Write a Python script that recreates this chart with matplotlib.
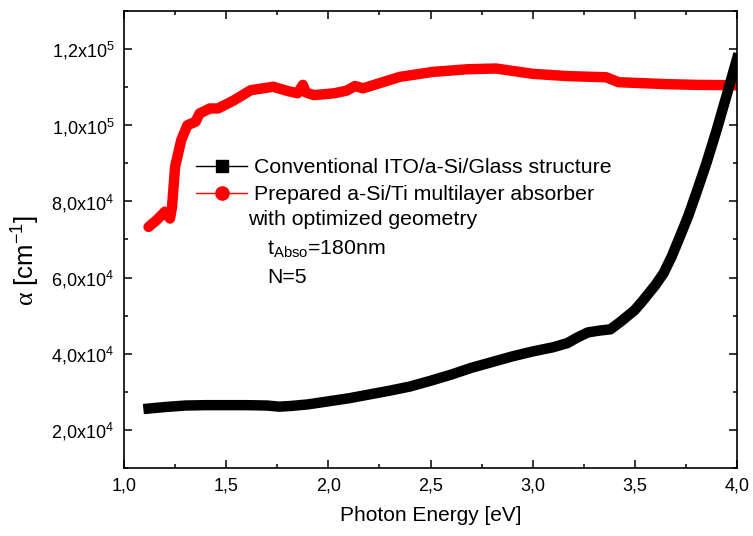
import numpy as np
import matplotlib
matplotlib.use('Agg')
import matplotlib.pyplot as plt
from matplotlib.lines import Line2D
from matplotlib.ticker import MultipleLocator, FixedLocator

plt.rcParams['font.family'] = ['Liberation Sans', 'DejaVu Sans']
plt.rcParams['mathtext.fontset'] = 'custom'
plt.rcParams['mathtext.rm'] = 'Liberation Serif'
plt.rcParams['mathtext.default'] = 'regular'

# Conventional ITO/a-Si/Glass structure
x_conv = [1.12, 1.20, 1.30, 1.40, 1.50, 1.60, 1.70, 1.76, 1.82, 1.90, 2.00, 2.10,
          2.20, 2.30, 2.40, 2.50, 2.60, 2.70, 2.80, 2.90, 3.00, 3.10, 3.17, 3.22,
          3.27, 3.33, 3.38, 3.43, 3.50, 3.54, 3.60, 3.64, 3.68, 3.72, 3.76, 3.80,
          3.85, 3.90, 3.95, 4.00]
a_conv = [25600, 26000, 26400, 26500, 26500, 26500, 26400, 26100, 26300, 26700,
          27500, 28300, 29300, 30300, 31400, 32900, 34500, 36300, 37800, 39300,
          40600, 41700, 42800, 44300, 45600, 46100, 46400, 48400, 51500, 54000,
          58000, 61100, 65500, 70700, 76000, 82100, 90000, 98700, 108000, 117500]

# Prepared a-Si/Ti multilayer absorber
x_abs = [1.12, 1.16, 1.20, 1.225, 1.235, 1.25, 1.28, 1.31, 1.35, 1.37, 1.42, 1.46,
         1.54, 1.62, 1.73, 1.80, 1.85, 1.875, 1.89, 1.93, 2.03, 2.09, 2.13, 2.17,
         2.35, 2.51, 2.68, 2.82, 3.00, 3.17, 3.36, 3.42, 3.65, 3.80, 4.00]
a_abs = [73300, 75100, 77300, 75500, 78600, 89100, 96100, 100000, 100900, 103100,
         104400, 104400, 106600, 109200, 110100, 109000, 108400, 110600, 108600,
         107900, 108400, 109100, 110300, 109700, 112700, 114000, 114700, 114900,
         113500, 112900, 112600, 111300, 110800, 110600, 110500]

x_ticks = [1.0, 1.5, 2.0, 2.5, 3.0, 3.5, 4.0]
x_ticklabels = ['1,0', '1,5', '2,0', '2,5', '3,0', '3,5', '4,0']
y_ticks = [20000, 40000, 60000, 80000, 100000, 120000]
y_ticklabels = ['2,0x10$^{4}$', '4,0x10$^{4}$', '6,0x10$^{4}$', '8,0x10$^{4}$',
                '1,0x10$^{5}$', '1,2x10$^{5}$']

fig = plt.figure(figsize=(7.53, 5.36), dpi=100)
ax = fig.add_axes([0.1647, 0.1269, 0.8141, 0.8526])

ax.plot(x_abs, a_abs, color='#ff0000', lw=7.5, solid_capstyle='round',
        solid_joinstyle='round', zorder=2)
ax.plot(x_conv, a_conv, color='black', lw=7.5, solid_capstyle='projecting',
        solid_joinstyle='round', zorder=3)

ax.set_xlim(1.0, 4.0)
ax.set_ylim(10000, 130000)

ax.xaxis.set_major_locator(FixedLocator(x_ticks))
ax.set_xticklabels(x_ticklabels)
ax.xaxis.set_minor_locator(MultipleLocator(0.25))
ax.yaxis.set_major_locator(FixedLocator(y_ticks))
ax.set_yticklabels(y_ticklabels)
ax.yaxis.set_minor_locator(MultipleLocator(10000))

ax.tick_params(which='both', direction='in', top=True, right=True, width=1.1)
ax.tick_params(which='major', length=6, labelsize=13, pad=7)
ax.tick_params(which='minor', length=3)
for s in ax.spines.values():
    s.set_linewidth(1.2)

ax.set_xlabel('Photon Energy [eV]', fontsize=15)
ax.xaxis.set_label_coords(0.5, -0.083)
ax.set_ylabel(r'$\mathrm{\alpha}$ [cm$^{-1}$]', fontsize=18.5)
ax.yaxis.set_label_coords(-0.134, 0.455)

# legend entries
handles = [Line2D([], [], color='black', lw=1, marker='s', markersize=8),
           Line2D([], [], color='#ff0000', lw=1, marker='o', markersize=9.5)]
labels = ['Conventional ITO/a-Si/Glass structure',
          'Prepared a-Si/Ti multilayer absorber']
ax.legend(handles, labels, loc='upper left', bbox_to_anchor=(0.118, 0.678),
          frameon=False, fontsize=15.3, handlelength=2.4, handletextpad=0.3,
          labelspacing=0.38, borderpad=0, borderaxespad=0)

ax.text(0.202, 0.543, 'with optimized geometry', transform=ax.transAxes,
        fontsize=15.3, va='center', ha='left')
ax.text(0.233, 0.479, 't$_{Abso}$=180nm', transform=ax.transAxes,
        fontsize=15.3, va='center', ha='left')
ax.text(0.233, 0.416, 'N=5', transform=ax.transAxes,
        fontsize=15.3, va='center', ha='left')

fig.savefig('out.png', dpi=100)
